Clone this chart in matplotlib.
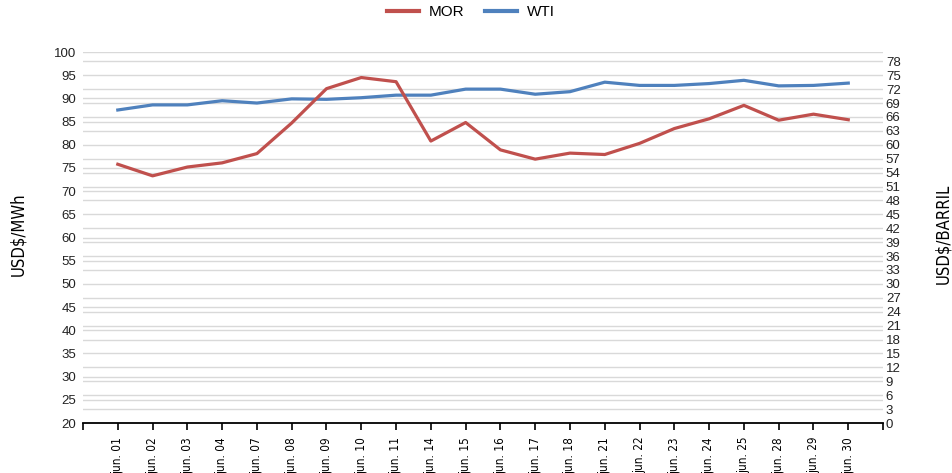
import matplotlib
matplotlib.use("Agg")
import matplotlib.pyplot as plt
import numpy as np

plt.rcParams['font.family'] = ['Liberation Sans', 'DejaVu Sans']

dates = ['jun. 01', 'jun. 02', 'jun. 03', 'jun. 04', 'jun. 07', 'jun. 08',
         'jun. 09', 'jun. 10', 'jun. 11', 'jun. 14', 'jun. 15', 'jun. 16',
         'jun. 17', 'jun. 18', 'jun. 21', 'jun. 22', 'jun. 23', 'jun. 24',
         'jun. 25', 'jun. 28', 'jun. 29', 'jun. 30']
mor = [75.8, 73.3, 75.2, 76.1, 78.1, 84.7, 92.1, 94.5, 93.6, 80.8, 84.8,
       78.9, 76.9, 78.2, 77.9, 80.3, 83.5, 85.6, 88.5, 85.3, 86.6, 85.4]
wti = [67.5, 68.6, 68.6, 69.5, 69.0, 69.9, 69.8, 70.15, 70.7, 70.7, 72.0,
       72.0, 70.9, 71.45, 73.5, 72.8, 72.8, 73.2, 73.9, 72.7, 72.8, 73.3]

RED = '#c0504d'
BLUE = '#4f81bd'
GRID = '#d9d9d9'
narrow = dict(family='DejaVu Sans', stretch='condensed')

fig = plt.figure(figsize=(9.53, 4.73), dpi=100)
ax = fig.add_axes([0.0871, 0.1057, 0.8395, 0.7843])
ax2 = ax.twinx()

# right axis underneath: it carries both sets of gridlines and the WTI line
ax.set_zorder(2)
ax2.set_zorder(1)
ax.patch.set_visible(False)

x = np.arange(len(dates))

ax2.set_ylim(0, 80)
ax2.set_yticks(np.arange(0, 79, 3))
ax2.set_yticks(np.arange(0, 81, 5), minor=True)
ax2.grid(True, which='both', axis='y', color=GRID, linewidth=1.0)
ax2.set_axisbelow(True)
l2, = ax2.plot(x, wti, color=BLUE, linewidth=2.3, label='WTI')

ax.set_ylim(20, 100)
ax.set_yticks(np.arange(20, 101, 5))
l1, = ax.plot(x, mor, color=RED, linewidth=2.3, label='MOR')

ax.set_xlim(-1, len(dates))
ax.set_xticks(np.arange(-1, len(dates) + 1))
ax.set_xticklabels([''] + dates + [''], rotation=90, fontsize=8.5, **narrow)

for a in (ax, ax2):
    for s in ('top', 'left', 'right', 'bottom'):
        a.spines[s].set_visible(False)
ax.spines['bottom'].set_visible(True)
ax.spines['bottom'].set_color('black')
ax.spines['bottom'].set_linewidth(1.3)

ax.tick_params(axis='x', direction='out', length=5, width=1.2, color='black', pad=5)
ax.tick_params(axis='y', length=0, labelsize=9.5, pad=5, colors='#222222')
ax2.tick_params(axis='y', which='both', length=0, labelsize=9.5, pad=2, colors='#222222')

fig.text(0.0195, 0.505, 'USD$/MWh', rotation=90, va='center', ha='center',
         fontsize=12, **narrow)
fig.text(0.99, 0.505, 'USD$/BARRIL', rotation=90, va='center', ha='center',
         fontsize=12, **narrow)

leg = fig.legend(handles=[l1, l2], loc='center', bbox_to_anchor=(0.494, 0.974),
                 ncol=2, frameon=False, fontsize=11, handlelength=2.1,
                 handletextpad=0.6, columnspacing=1.4)
for h in leg.get_lines():
    h.set_linewidth(3)

fig.savefig('out.png', dpi=100)
